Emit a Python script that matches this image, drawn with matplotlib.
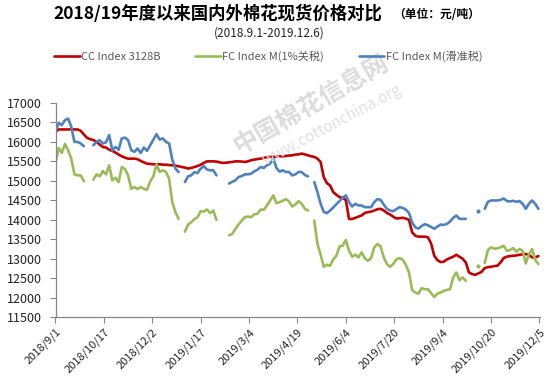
import numpy as np
import pandas as pd
import matplotlib
matplotlib.use('Agg')
import matplotlib.pyplot as plt

plt.rcParams['font.family'] = ['Noto Sans CJK SC', 'DejaVu Sans']

nan = np.nan

start_date = '2018-09-01'
step = '3D'

cc_index = [
    16260, 16320, 16320, 16320, 16320, 16320, 16320, 16320, 16285, 16190,
    16105, 16070, 16050, 16000, 15930, 15870, 15855, 15800, 15770, 15725,
    15675, 15630, 15595, 15570, 15570, 15570, 15555, 15510, 15475, 15440,
    15435, 15425, 15425, 15425, 15415, 15415, 15405, 15400, 15390, 15375,
    15355, 15340, 15315, 15330, 15355, 15380, 15415, 15460, 15500, 15500,
    15500, 15495, 15475, 15460, 15465, 15475, 15485, 15500, 15500, 15495,
    15485, 15500, 15530, 15545, 15560, 15570, 15590, 15605, 15615, 15615,
    15620, 15630, 15630, 15640, 15650, 15655, 15675, 15680, 15700, 15680,
    15655, 15630, 15615, 15570, 15485, 15095, 14940, 14880, 14710, 14640,
    14580, 14565, 14500, 14020, 14020, 14050, 14080, 14110, 14175, 14195,
    14210, 14237, 14270, 14280, 14240, 14175, 14135, 14080, 14030, 14040,
    14050, 14030, 13995, 13677, 13590, 13565, 13565, 13565, 13548, 13393,
    13075, 12963, 12912, 12920, 12980, 13015, 13050, 13100, 13050, 12997,
    12903, 12645, 12602, 12585, 12620, 12662, 12757, 12782, 12790, 12808,
    12817, 12903, 13015, 13050, 13066, 13075, 13083, 13100, 13110, 13118,
    13100, 13032, 13032, 13066,
]

fc_1pct = [
    15450, 15845, 15717, 15950, 15780, 15571, 15166, 15140, 15140, 14990,
    nan, nan, 15030, 15166, 15115, 15253, 15166, 15399, 15011, 15080,
    14968, 15356, 15305, 15140, 14796, 14839, 14787, 14839, 14796, 14770,
    14985, 15115, 15425, 15227, 15270, 15227, 15054, 14452, 14194, 14022,
    nan, 13695, 13875, 13935, 14013, 14065, 14220, 14210, 14262, 14168,
    14237, 13995, nan, nan, nan, 13600, 13634, 13763, 13875, 13979,
    14065, 14082, 14065, 14142, 14151, 14263, 14254, 14366, 14495, 14624,
    14426, 14452, 14487, 14530, 14470, 14340, 14392, 14478, 14410, 14280,
    14237, nan, 13979, 13376, 13100, 12790, 12843, 12817, 12980, 13075,
    13316, 13333, 13480, 13204, 13050, 13100, 13032, 13161, 13006, 12946,
    13015, 13290, 13376, 13316, 13032, 12860, 12790, 12860, 12980, 13015,
    12972, 12843, 12645, 12190, 12128, 12102, 12240, 12214, 12214, 12111,
    12016, 12102, 12128, 12171, 12197, 12214, 12516, 12645, 12447, 12516,
    12430, nan, nan, nan, 12817, nan, 12886, 13221, 13290, 13256,
    13264, 13290, 13333, 13204, 13221, 13273, 13178, 13247, 13204, 12877,
    13118, 13247, 12963, 12860,
]

fc_sliding = [
    16260, 16490, 16430, 16560, 16600, 16390, 16000, 16000, 15960, 15890,
    nan, nan, 15915, 16000, 16045, 15960, 15990, 16175, 15785, 15870,
    15800, 16090, 16110, 16045, 15785, 15745, 15830, 15715, 15855, 15770,
    15915, 16060, 16200, 16060, 16090, 16000, 15960, 15545, 15315, 15225,
    nan, 14968, 15115, 15140, 15220, 15200, 15313, 15380, 15290, 15270,
    15270, 15140, nan, nan, nan, 14930, 14977, 15011, 15097, 15123,
    15166, 15166, 15184, 15244, 15287, 15356, 15330, 15400, 15442, 15571,
    15330, 15235, 15270, 15227, 15227, 15140, 15166, 15227, 15227, 15150,
    15115, nan, 14968, 14710, 14410, 14200, 14170, 14237, 14315, 14400,
    14480, 14565, 14624, 14452, 14340, 14410, 14366, 14366, 14323, 14323,
    14323, 14452, 14530, 14510, 14390, 14280, 14237, 14220, 14270, 14323,
    14305, 14260, 14175, 13927, 13806, 13770, 13840, 13885, 13858, 13815,
    13770, 13823, 13875, 13866, 13892, 13953, 14048, 14108, 14022, 14022,
    14022, nan, nan, nan, 14220, nan, 14280, 14460, 14495, 14495,
    14495, 14510, 14547, 14480, 14470, 14487, 14460, 14480, 14410, 14280,
    14410, 14495, 14410, 14280,
]

series_names = ['CC Index 3128B', 'FC Index M(1%关税)', 'FC Index M(滑准税)']
series_colors = ['#C00000', '#9BBB59', '#4F81BD']

tick_dates = ['2018-09-01', '2018-10-17', '2018-12-02', '2019-01-17', '2019-03-04',
              '2019-04-19', '2019-06-04', '2019-07-20', '2019-09-04', '2019-10-20',
              '2019-12-05']
tick_labels = ['2018/9/1', '2018/10/17', '2018/12/2', '2019/1/17', '2019/3/4',
               '2019/4/19', '2019/6/4', '2019/7/20', '2019/9/4', '2019/10/20',
               '2019/12/5']
y_ticks = list(range(11500, 17001, 500))

dates = pd.date_range(start_date, periods=len(cc_index), freq=step)

fig = plt.figure(figsize=(5.54, 3.81), dpi=100)
ax = fig.add_axes([55.5 / 554, 64 / 381, 485 / 554, 214 / 381])

# watermark
fig.text(312 / 554, 1 - 105 / 381, '中国棉花信息网', fontsize=18, fontweight='bold',
         color='#dcdcdc', rotation=30, ha='center', va='center', zorder=0)
fig.text(332 / 554, 1 - 125 / 381, 'www.cottonchina.org', fontsize=11,
         color='#e0e0e0', rotation=28, ha='center', va='center', zorder=0)

for vals, name, col in zip([cc_index, fc_1pct, fc_sliding], series_names, series_colors):
    s = pd.Series(vals, index=dates, dtype=float)
    ax.plot(s.index, s.values, color=col, lw=1.9, label=name, solid_capstyle='round')
    # points with no neighbours would vanish in a line plot
    lone = s.notna() & s.shift(1).isna() & s.shift(-1).isna()
    ax.plot(s.index[lone], s.values[lone], 'o', color=col, ms=3, mew=0)

ax.set_ylim(11500, 17000)
ax.set_yticks(y_ticks)
ax.set_xlim(pd.Timestamp('2018-09-01'), pd.Timestamp('2019-12-06'))
ax.set_xticks(pd.to_datetime(tick_dates))
ax.set_xticklabels(tick_labels, rotation=45, ha='right', rotation_mode='anchor')

for side in ['top', 'right']:
    ax.spines[side].set_visible(False)
for side in ['left', 'bottom']:
    ax.spines[side].set_color('#868686')
    ax.spines[side].set_linewidth(0.9)
ax.tick_params(axis='y', length=4, color='#868686', pad=6, labelsize=9, labelcolor='#222222')
ax.tick_params(axis='x', length=4, color='#868686', pad=3, labelsize=8, labelcolor='#222222')
ax.patch.set_alpha(0)

fig.text(218 / 554, 1 - 14 / 381, '2018/19年度以来国内外棉花现货价格对比',
         fontsize=12.5, fontweight='bold', ha='center', va='center')
fig.text(393 / 554, 1 - 14 / 381, '（单位：元/吨）', fontsize=8.5, fontweight='bold',
         ha='left', va='center')
fig.text(269 / 554, 1 - 33 / 381, '(2018.9.1-2019.12.6)', fontsize=8.5,
         ha='center', va='center', color='#222222')

fig.legend(loc='center left', bbox_to_anchor=(54 / 554, 1 - 56 / 381), ncol=3,
           frameon=False, fontsize=8, handlelength=2.3, handletextpad=0.15,
           columnspacing=3.1, borderpad=0, borderaxespad=0, labelcolor='#595959')

fig.savefig('out.png', dpi=100)
